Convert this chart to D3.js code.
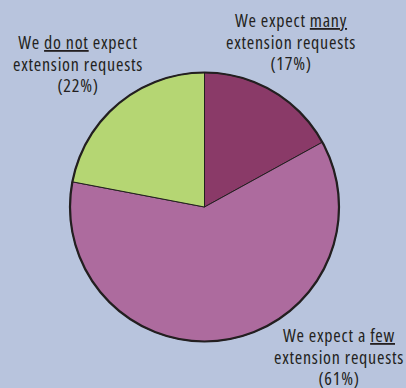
<!DOCTYPE html>
<html>
<head>
<meta charset="utf-8">
<script src="https://cdn.jsdelivr.net/npm/d3@7"></script>
<style>
  html, body { margin: 0; padding: 0; background: #b8c4dd; }
  svg { display: block; }
  .lbl { font-family: "Open Sans", "Noto Sans", sans-serif; font-size: 18px; fill: #231f20; font-stretch: 75%; letter-spacing: 0.75px; }
</style>
</head>
<body>
<svg id="chart" width="406" height="388"></svg>
<script>
// Survey answers, share of respondents (%)
const categories = ["many", "few", "none"];
const values = [17, 61, 22];
const colors = ["#8a3a68", "#ad6b9e", "#b5d673"];

// Label lines: each line is a list of [text, underlined] runs
const labelLines = [
  [[["We expect ", false], ["many", true]], [["extension requests", false]], [["(17%)", false]]],
  [[["We expect a ", false], ["few", true]], [["extension requests", false]], [["(61%)", false]]],
  [[["We ", false], ["do not", true], [" expect", false]], [["extension requests", false]], [["(22%)", false]]]
];
const labelAnchors = [[291, 27], [339, 342], [78, 49]];

const W = 406, H = 388;
const cx = 204.5, cy = 207, R = 134.5;
const svg = d3.select("#chart");
svg.append("rect").attr("width", W).attr("height", H).attr("fill", "#b8c4dd");

const pie = d3.pie().sort(null).value(d => d)(values);
const arc = d3.arc().innerRadius(0).outerRadius(R);
const g = svg.append("g").attr("transform", `translate(${cx},${cy})`);

g.selectAll("path.slice").data(pie).join("path")
  .attr("class", "slice")
  .attr("d", arc)
  .attr("fill", (d, i) => colors[i])
  .attr("stroke", "#231f20")
  .attr("stroke-width", 1);

g.append("circle").attr("r", R).attr("fill", "none")
  .attr("stroke", "#231f20").attr("stroke-width", 2.2);

const lineGap = 21.5;
labelLines.forEach((lines, i) => {
  const [x, y] = labelAnchors[i];
  const t = svg.append("text").attr("class", "lbl").attr("text-anchor", "middle");
  lines.forEach((runs, j) => {
    runs.forEach((run, k) => {
      const ts = t.append("tspan").text(run[0]);
      if (k === 0) ts.attr("x", x).attr("y", y + j * lineGap);
      if (run[1]) ts.attr("text-decoration", "underline");
    });
  });
});
</script>
</body>
</html>
